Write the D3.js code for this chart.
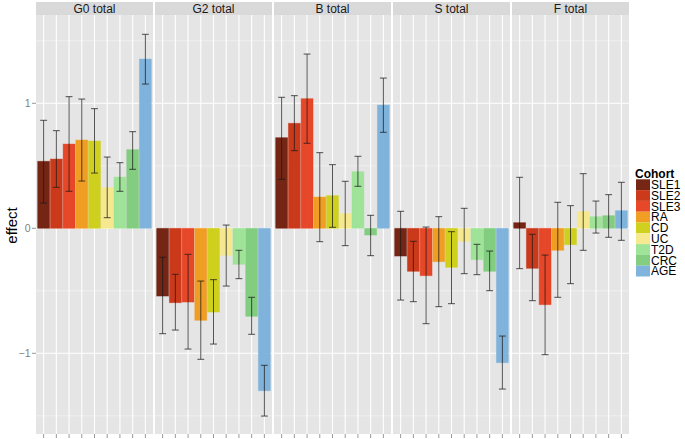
<!DOCTYPE html>
<html>
<head>
<meta charset="utf-8">
<script src="https://cdn.jsdelivr.net/npm/d3@7"></script>
<style>
  html, body { margin: 0; padding: 0; background: #fff; }
  svg { display: block; font-family: "Liberation Sans", Arial, sans-serif; }
</style>
</head>
<body>
<svg id="chart" width="685" height="439"></svg>
<script>
// ---- data ----
const panels = ["G0 total", "G2 total", "B total", "S total", "F total"];
const cohorts = ["SLE1", "SLE2", "SLE3", "RA", "CD", "UC", "T2D", "CRC", "AGE"];
const cohortColors = ["#6E1A08", "#C8300F", "#E63E1E", "#F09A18", "#CDCD12", "#F5E88A", "#9BE395", "#7CCB7A", "#7AB0DA"];

const effectG0 = [0.536, 0.554, 0.674, 0.706, 0.698, 0.325, 0.410, 0.629, 1.354];
const lowerG0  = [0.202, 0.328, 0.296, 0.378, 0.442, 0.085, 0.296, 0.472, 1.154];
const upperG0  = [0.864, 0.781, 1.053, 1.034, 0.957, 0.570, 0.525, 0.773, 1.552];

const effectG2 = [-0.542, -0.595, -0.590, -0.736, -0.670, -0.216, -0.288, -0.704, -1.299];
const lowerG2  = [-0.843, -0.814, -0.966, -1.048, -0.926, -0.462, -0.403, -0.848, -1.502];
const upperG2  = [-0.232, -0.368, -0.208, -0.422, -0.411, 0.026, -0.176, -0.552, -1.096];

const effectB = [0.725, 0.840, 1.037, 0.250, 0.261, 0.117, 0.453, -0.054, 0.986];
const lowerB  = [0.392, 0.621, 0.680, -0.107, 0.008, -0.139, 0.336, -0.219, 0.768];
const upperB  = [1.048, 1.061, 1.394, 0.605, 0.509, 0.376, 0.576, 0.104, 1.202];

const effectS = [-0.222, -0.344, -0.379, -0.267, -0.312, -0.104, -0.251, -0.344, -1.075];
const lowerS  = [-0.574, -0.587, -0.763, -0.627, -0.603, -0.363, -0.371, -0.499, -1.286];
const upperS  = [0.136, -0.104, 0.010, 0.093, -0.027, 0.160, -0.128, -0.182, -0.862];

const effectF = [0.045, -0.320, -0.611, -0.176, -0.131, 0.134, 0.093, 0.101, 0.141];
const lowerF  = [-0.323, -0.579, -1.011, -0.552, -0.443, -0.176, -0.038, -0.072, -0.096];
const upperF  = [0.408, -0.048, -0.214, 0.208, 0.181, 0.437, 0.218, 0.269, 0.368];

const effects = [effectG0, effectG2, effectB, effectS, effectF];
const lowers  = [lowerG0, lowerG2, lowerB, lowerS, lowerF];
const uppers  = [upperG0, upperG2, upperB, upperS, upperF];

const yMajor = [-1, 0, 1];
const yMinor = [-1.5, -0.5, 0.5, 1.5];
const yLabels = ["\u22121", "0", "1"];

// ---- layout ----
const svg = d3.select("#chart");
const plotLeft = 36, panelW = 117, gap = 2;
const stripTop = 2, stripBottom = 15, plotBottom = 434;

const y = d3.scaleLinear().domain([-1.6456, 1.7064]).range([plotBottom, stripBottom]);
const x = d3.scaleBand().domain(cohorts).range([0, panelW]).paddingInner(0).paddingOuter(0.1);
const px = d3.scaleBand().domain(panels).range([plotLeft, plotLeft + panels.length * panelW + (panels.length - 1) * gap])
  .paddingInner(gap / (panelW + gap)).paddingOuter(0);
const color = d3.scaleOrdinal().domain(cohorts).range(cohortColors);

panels.forEach((p, pi) => {
  const g = svg.append("g").attr("transform", `translate(${px(p)},0)`);
  const w = px.bandwidth();
  // strip
  g.append("rect").attr("x", 0).attr("y", stripTop).attr("width", w).attr("height", stripBottom - stripTop).attr("fill", "#D9D9D9");
  g.append("text").attr("x", w / 2).attr("y", (stripTop + stripBottom) / 2 + 4.5)
    .attr("text-anchor", "middle").attr("font-size", 12).attr("fill", "#1A1A1A").text(p);
  // panel background
  g.append("rect").attr("x", 0).attr("y", stripBottom).attr("width", w).attr("height", plotBottom - stripBottom).attr("fill", "#E5E5E5");
  // minor grid
  g.selectAll(".minor").data(yMinor).enter().append("line")
    .attr("x1", 0).attr("x2", w).attr("y1", d => y(d)).attr("y2", d => y(d))
    .attr("stroke", "#F2F2F2").attr("stroke-width", 0.8);
  // major grid
  g.selectAll(".major").data(yMajor).enter().append("line")
    .attr("x1", 0).attr("x2", w).attr("y1", d => y(d)).attr("y2", d => y(d))
    .attr("stroke", "#FFFFFF").attr("stroke-width", 1.1);
  g.selectAll(".vgrid").data(cohorts).enter().append("line")
    .attr("x1", d => x(d) + x.bandwidth() / 2).attr("x2", d => x(d) + x.bandwidth() / 2)
    .attr("y1", stripBottom).attr("y2", plotBottom)
    .attr("stroke", "#FFFFFF").attr("stroke-width", 1.1);
  // bars
  const rows = cohorts.map((c, i) => ({ c, v: effects[pi][i], lo: lowers[pi][i], hi: uppers[pi][i] }));
  g.selectAll(".bar").data(rows).enter().append("rect")
    .attr("x", d => x(d.c) + 0.4)
    .attr("width", x.bandwidth() - 0.8)
    .attr("y", d => y(Math.max(0, d.v)))
    .attr("height", d => Math.abs(y(d.v) - y(0)))
    .attr("fill", d => color(d.c)).attr("fill-opacity", 0.95)
    .attr("stroke", d => color(d.c)).attr("stroke-opacity", 0.45).attr("stroke-width", 0.9);
  // error bars
  const cap = x.bandwidth() * 0.27;
  const eg = g.selectAll(".err").data(rows).enter().append("g")
    .attr("stroke", "#1A1A1A").attr("stroke-opacity", 0.75).attr("stroke-width", 1);
  eg.append("line").attr("x1", d => x(d.c) + x.bandwidth() / 2).attr("x2", d => x(d.c) + x.bandwidth() / 2)
    .attr("y1", d => y(d.lo)).attr("y2", d => y(d.hi));
  eg.append("line").attr("x1", d => x(d.c) + x.bandwidth() / 2 - cap).attr("x2", d => x(d.c) + x.bandwidth() / 2 + cap)
    .attr("y1", d => y(d.lo)).attr("y2", d => y(d.lo));
  eg.append("line").attr("x1", d => x(d.c) + x.bandwidth() / 2 - cap).attr("x2", d => x(d.c) + x.bandwidth() / 2 + cap)
    .attr("y1", d => y(d.hi)).attr("y2", d => y(d.hi));
  // bottom ticks
  g.selectAll(".xtick").data(cohorts).enter().append("line")
    .attr("x1", d => x(d) + x.bandwidth() / 2).attr("x2", d => x(d) + x.bandwidth() / 2)
    .attr("y1", plotBottom).attr("y2", plotBottom + 4)
    .attr("stroke", "#7F7F7F").attr("stroke-width", 0.8);
});

// y axis
const yg = svg.append("g");
yg.selectAll(".ytick").data(yMajor).enter().append("line")
  .attr("x1", plotLeft - 4).attr("x2", plotLeft).attr("y1", d => y(d)).attr("y2", d => y(d))
  .attr("stroke", "#7F7F7F").attr("stroke-width", 0.8);
yg.selectAll(".ylab").data(yMajor).enter().append("text")
  .attr("x", plotLeft - 5.5).attr("y", d => y(d) + 3.8)
  .attr("text-anchor", "end").attr("font-size", 10.5).attr("fill", "#7F7F7F")
  .text((d, i) => yLabels[i]);
svg.append("text").attr("transform", "translate(16.5,225.5) rotate(-90)")
  .attr("text-anchor", "middle").attr("font-size", 15).attr("fill", "#000").text("effect");

// legend
const lg = svg.append("g").attr("transform", "translate(636,0)");
lg.append("text").attr("x", -1).attr("y", 177.5).attr("font-size", 12).attr("font-weight", "bold").attr("fill", "#000").text("Cohort");
const keyH = 10.8, keyTop = 179.3;
lg.selectAll(".key").data(cohorts).enter().append("rect")
  .attr("x", 0).attr("y", (d, i) => keyTop + i * keyH).attr("width", 14).attr("height", keyH)
  .attr("fill", d => color(d)).attr("fill-opacity", 0.95);
lg.selectAll(".klab").data(cohorts).enter().append("text")
  .attr("x", 15).attr("y", (d, i) => keyTop + i * keyH + 9.6)
  .attr("font-size", 12).attr("fill", "#000").text(d => d);
</script>
</body>
</html>
